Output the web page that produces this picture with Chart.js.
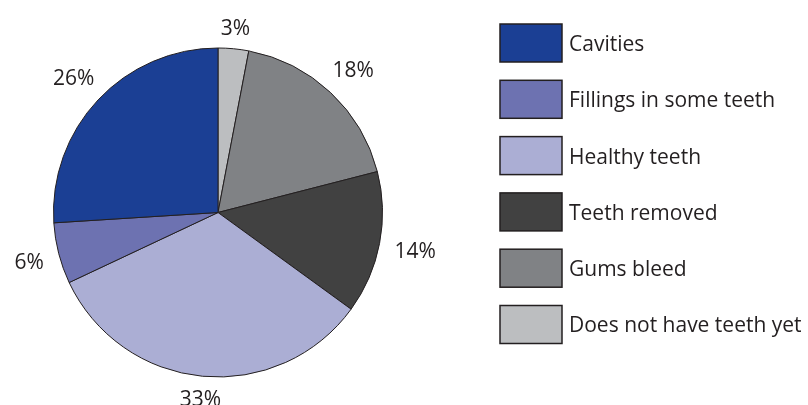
<!DOCTYPE html>
<html>
<head>
<meta charset="utf-8">
<script src="https://cdn.jsdelivr.net/npm/chart.js@4"></script>
<style>
  html, body { margin: 0; padding: 0; background: #fff; }
  #wrap { width: 808px; height: 405px; }
</style>
</head>
<body>
<div id="wrap"><canvas id="mycanvas" width="808" height="405"></canvas></div>
<script>
// slices clockwise from the top
var labels = ['Does not have teeth yet', 'Gums bleed', 'Teeth removed', 'Healthy teeth', 'Fillings in some teeth', 'Cavities'];
var values = [3, 18, 14, 33, 6, 26];
var colors = ['#bcbec0', '#808285', '#414141', '#abaed4', '#6d72b1', '#1b3f94'];

var inkColor = '#231f20';
var fontFamily = "'Open Sans', 'Noto Sans', sans-serif";

// percent labels just outside each slice
var outsideLabels = {
  id: 'outsideLabels',
  afterDatasetsDraw: function(chart) {
    var ctx = chart.ctx;
    var meta = chart.getDatasetMeta(0);
    ctx.save();
    ctx.font = '21px ' + fontFamily;
    ctx.fillStyle = inkColor;
    ctx.textAlign = 'center';
    ctx.textBaseline = 'middle';
    meta.data.forEach(function(arc, i) {
      var p = arc.getProps(['x', 'y', 'startAngle', 'endAngle', 'outerRadius'], true);
      var mid = (p.startAngle + p.endAngle) / 2;
      var text = values[i] + '%';
      var halfW = ctx.measureText(text).width / 2;
      var halfH = 5;
      var c = Math.cos(mid), s = Math.sin(mid);
      var d = p.outerRadius + 15 + Math.abs(c) * halfW + Math.abs(s) * halfH;
      ctx.fillText(text, p.x + c * d, p.y + s * d + 2);
    });
    ctx.restore();
  }
};

// boxed legend on the right, listed in reverse data order
var boxLegend = {
  id: 'boxLegend',
  afterDraw: function(chart) {
    var ctx = chart.ctx;
    var ds = chart.data.datasets[0];
    var n = chart.data.labels.length;
    ctx.save();
    ctx.font = '21px ' + fontFamily;
    ctx.textBaseline = 'middle';
    for (var k = 0; k < n; k++) {
      var i = n - 1 - k;
      var y = 24 + k * 56.3;
      ctx.fillStyle = ds.backgroundColor[i];
      ctx.fillRect(500, y, 62, 38);
      ctx.lineWidth = 1.5;
      ctx.strokeStyle = inkColor;
      ctx.strokeRect(500, y, 62, 38);
      ctx.fillStyle = inkColor;
      ctx.fillText(chart.data.labels[i], 569, y + 21);
    }
    ctx.restore();
  }
};

var chartdata = {
  labels: labels,
  datasets: [
    {
      data: values,
      backgroundColor: colors,
      borderColor: inkColor,
      borderWidth: 1,
      hoverOffset: 0,
      radius: 164.5
    }
  ]
};

var ctx = document.getElementById('mycanvas');

var pieChart = new Chart(ctx, {
  type: 'pie',
  data: chartdata,
  options: {
    responsive: false,
    animation: false,
    events: [],
    layout: { padding: { left: 20, right: 392, top: 20, bottom: 0 } },
    plugins: {
      legend: { display: false },
      tooltip: { enabled: false }
    }
  },
  plugins: [outsideLabels, boxLegend]
});
</script>
</body>
</html>
